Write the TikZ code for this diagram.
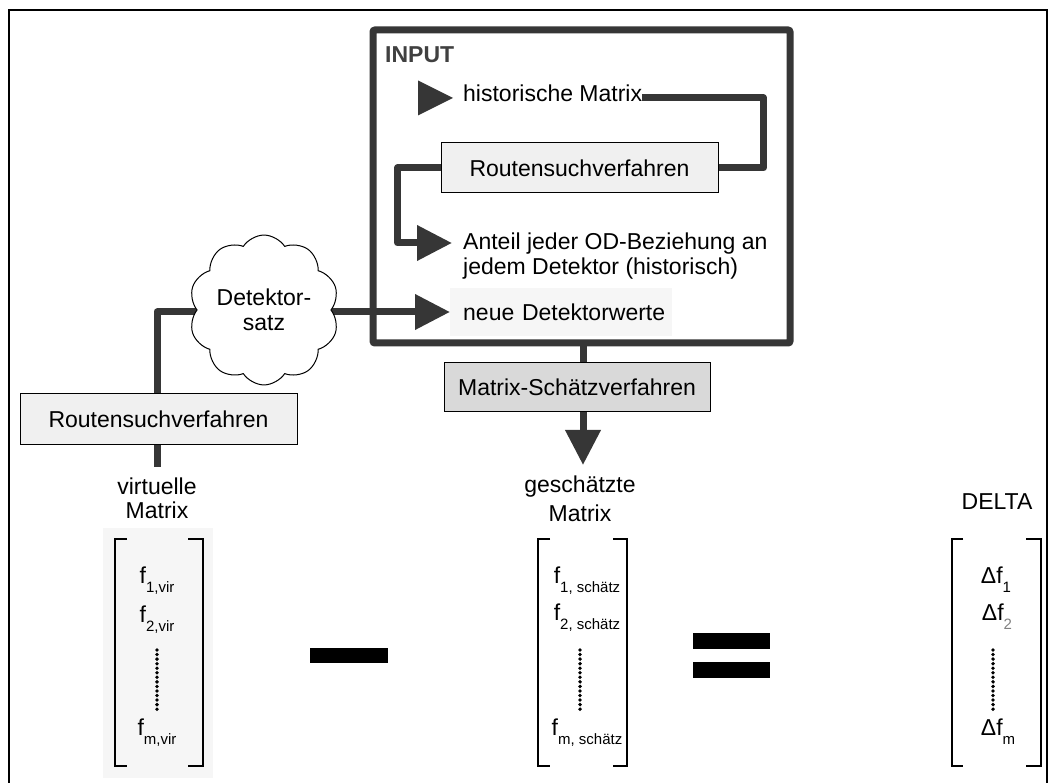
\documentclass[tikz,border=0pt]{standalone}
\usepackage{fontspec}
\setmainfont{Liberation Sans}
\usetikzlibrary{arrows.meta,shapes.symbols,calc}

\definecolor{linegray}{HTML}{363636}
\definecolor{boxfill}{HTML}{F0F0F0}
\definecolor{estfill}{HTML}{D9D9D9}
\definecolor{panefill}{HTML}{F6F6F6}
\definecolor{labelgray}{HTML}{404040}
\definecolor{subgray}{HTML}{808080}

\pgfdeclarelayer{back}
\pgfsetlayers{back,main}

% subscripted matrix entry
\newcommand\matsub[1]{\raisebox{-9pt}{\fontsize{15}{15}\selectfont #1}}

\tikzset{
  every node/.style={font=\fontsize{23}{25}\selectfont, inner sep=0pt},
  flowline/.style={draw=linegray, line width=7pt, line join=round},
  tip/.style={-{Triangle[length=35pt,width=34pt]}},
  procbox/.style={draw=black, line width=1pt, fill=boxfill,
    minimum width=277pt, minimum height=50pt},
  bracket/.style={draw=black, line width=2.6pt},
  dotcol/.style={draw=black, line width=3.8pt, line cap=round,
    dash pattern=on 0pt off 4.55pt},
}

\begin{document}
\begin{tikzpicture}[x=1pt,y=-1pt]
\useasboundingbox (0,0) rectangle (1055,783);

% outer frame
\draw[line width=2.5pt] (9,800) -- (9,10) -- (1047,10) -- (1047,800);

% INPUT block
\node[draw=linegray, line width=7pt, rounded corners=2pt,
      minimum width=417pt, minimum height=313pt] (inbox) at (581.5,186.5) {};
\node[anchor=west, text=labelgray, font=\fontsize{23}{25}\selectfont\bfseries]
      (inlabel) at (385,55) {INPUT};
\node[anchor=west] (hist) at (463,93) {historische Matrix};
\fill[linegray] ([xshift=-10pt,yshift=-5pt]hist.west) -- ++(-35,-17.5) -- ++(0,35) -- cycle;
\node[procbox] (rs1) at (579.5,168) {Routensuchverfahren};
\node[anchor=north west, align=left] (ant) at (463,233)
      {Anteil jeder OD-Beziehung an\\jedem Detektor (historisch)};
\node[fill=panefill, anchor=west, minimum height=48pt,
      text width=222pt, inner xsep=0pt] (neue) at (450,312)
      {\hspace*{13pt}\mbox{neue Detektorwerte}};

\draw[flowline] ([yshift=-5pt]hist.east) -| ([xshift=45pt]rs1.east) -- (rs1.east);
\draw[flowline, tip] (rs1.west) -- ++(-43,0) |- ([shift={(-11pt,-10pt)}]ant.north west);

% detector set and virtual matrix route
\node[cloud, cloud puffs=10, cloud puff arc=115, draw=black, line width=1pt,
      fill=white, minimum width=150pt, minimum height=128pt, align=center]
      (cloud) at (264,310) {Detektor-\\satz};
\node[procbox] (rs2) at (158.5,419) {Routensuchverfahren};
\node[anchor=north, align=center, font=\fontsize{23}{24}\selectfont] (virt) at (157,478) {virtuelle\\Matrix};

% estimation step
\node[procbox, fill=estfill, minimum width=266pt, minimum height=49pt] (ms) at (577,387.5) {Matrix-Schätzverfahren};
\node[anchor=north, align=center, font=\fontsize{23}{29}\selectfont] (gesch) at (580,476) {geschätzte\\Matrix};
\node[anchor=base] (delta) at (997,509) {DELTA};

\begin{pgfonlayer}{back}
  \draw[flowline, shorten >=11pt] (cloud.center |- neue.west) -| (virt.north);
  \draw[flowline, tip] (cloud.center |- neue.west) -- (neue.west);
  \draw[flowline] ([xshift=6pt]ms.north) -- ([xshift=6pt]ms.north |- inbox.south);
  \draw[flowline, tip, shorten >=11pt] ([xshift=6pt]ms.south) -- ([xshift=6pt]ms.south |- gesch.north);
  \fill[panefill] (103,528) rectangle (213,778);
\end{pgfonlayer}

% virtual matrix
\draw[bracket] (127,539) -- (115,539) -- (115,766) -- (127,766);
\draw[bracket] (188,539) -- (203,539) -- (203,766) -- (188,766);
\node[anchor=base] (v1) at (157,583) {f\matsub{1,vir}};
\node[anchor=base] (v2) at (157,622) {f\matsub{2,vir}};
\node[anchor=base] (vm) at (157,735) {f\matsub{m,vir}};
\draw[dotcol] (157,650) -- (157,710);

% minus sign
\fill (310,648) rectangle (388,663);

% estimated matrix
\draw[bracket] (550,539) -- (538,539) -- (538,766) -- (550,766);
\draw[bracket] (613,539) -- (627,539) -- (627,766) -- (613,766);
\node[anchor=base] (g1) at (587,583) {f\matsub{1, schätz}};
\node[anchor=base] (g2) at (587,620) {f\matsub{2, schätz}};
\node[anchor=base] (gm) at (587,735) {f\matsub{m, schätz}};
\draw[dotcol] (580,650) -- (580,710);

% equals sign
\fill (693,633) rectangle (770,649);
\fill (693,662) rectangle (770,678);

% difference matrix
\draw[bracket] (963,539) -- (952,539) -- (952,766) -- (963,766);
\draw[bracket] (1026,539) -- (1041,539) -- (1041,766) -- (1026,766);
\node[anchor=base] (d1) at (996,583) {Δf\matsub{1}};
\node[anchor=base] (d2) at (997,620) {Δf\matsub{\textcolor{subgray}{2}}};
\node[anchor=base] (dm) at (998,735) {Δf\matsub{m}};
\draw[dotcol] (993,650) -- (993,710);
\end{tikzpicture}
\end{document}
